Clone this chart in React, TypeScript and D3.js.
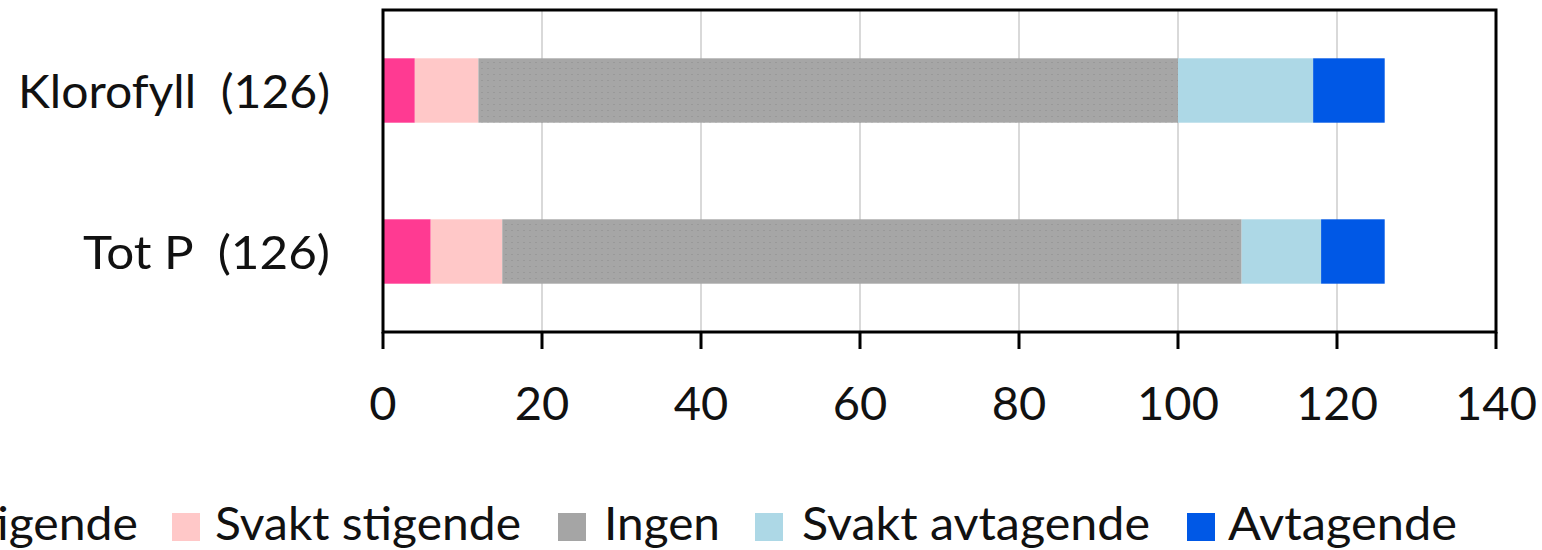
import React from "react";
import * as d3 from "d3";

const categories = ["Klorofyll  (126)", "Tot P  (126)"];
const seriesNames = ["Stigende", "Svakt stigende", "Ingen", "Svakt avtagende", "Avtagende"];
const stigende = [4, 6];
const svaktStigende = [8, 9];
const ingen = [88, 93];
const svaktAvtagende = [17, 10];
const avtagende = [9, 8];
const xTicks = [0, 20, 40, 60, 80, 100, 120, 140];

const colors = ["#FF3A92", "#FFC8C8", "url(#dots)", "#ADD8E6", "#0058E6"];
const legendSwatch = ["#FF3A92", "#FFC8C8", "#A5A5A5", "#ADD8E6", "#0058E6"];

const W = 1542;
const H = 550;
const M = { left: 383, right: 1496, top: 10, bottom: 332 };
const FONT = "Lato, 'Open Sans', sans-serif";
// layout of legend (square x, text x, text width)
const legendLayout = [
  { sx: -89, tx: -46, tw: 184 },
  { sx: 172, tx: 215, tw: 306 },
  { sx: 558, tx: 604, tw: 116 },
  { sx: 755, tx: 802, tw: 348 },
  { sx: 1187, tx: 1228, tw: 229 },
];
const catLabelWidths = [312, 247];

export default function App() {
  const x = d3.scaleLinear().domain([0, 140]).range([M.left, M.right]);
  const y = d3.scaleBand<string>().domain(categories).range([M.top, M.bottom]).paddingInner(0.6).paddingOuter(0.3);
  const rows = categories.map((c, i) => ({
    cat: c,
    Stigende: stigende[i],
    "Svakt stigende": svaktStigende[i],
    Ingen: ingen[i],
    "Svakt avtagende": svaktAvtagende[i],
    Avtagende: avtagende[i],
  }));
  const stack = d3.stack<any>().keys(seriesNames)(rows);

  return (
    <svg width={W} height={H} style={{ position: "absolute", left: 0, top: 0, background: "#fff" }}>
      <defs>
        <pattern id="dots" width="6" height="6" patternUnits="userSpaceOnUse">
          <rect width="6" height="6" fill="#A6A6A6" />
          <rect x="1" y="2" width="2" height="1" fill="#999999" />
        </pattern>
      </defs>
      <rect width={W} height={H} fill="#fff" />
      {xTicks.slice(1, -1).map((t) => (
        <line key={t} x1={x(t)} x2={x(t)} y1={M.top} y2={M.bottom} stroke="#D9D9D9" strokeWidth={2} />
      ))}
      {stack.map((s, si) =>
        s.map((d, di) => (
          <rect
            key={si + "-" + di}
            x={x(d[0])}
            width={x(d[1]) - x(d[0])}
            y={y(categories[di])}
            height={y.bandwidth()}
            fill={colors[si]}
          />
        ))
      )}
      <rect x={M.left} y={M.top} width={M.right - M.left} height={M.bottom - M.top} fill="none" stroke="#000" strokeWidth={3} />
      {xTicks.map((t) => (
        <g key={t}>
          <line x1={x(t)} x2={x(t)} y1={M.bottom} y2={M.bottom + 17} stroke="#000" strokeWidth={3} />
          <text x={x(t)} y={420} textAnchor="middle" fontFamily={FONT} fontSize={47} fill="#111">
            {t}
          </text>
        </g>
      ))}
      {categories.map((c, i) => (
        <text
          key={c}
          x={330}
          y={(y(c) as number) + y.bandwidth() / 2 + 17}
          textAnchor="end"
          fontFamily={FONT}
          fontSize={47}
          fill="#111"
          style={{ whiteSpace: "pre" }}
          textLength={catLabelWidths[i]}
          lengthAdjust="spacingAndGlyphs"
        >
          {c}
        </text>
      ))}
      {seriesNames.map((n, i) => (
        <g key={n}>
          <rect x={legendLayout[i].sx} y={513} width={28} height={28} fill={legendSwatch[i]} />
          <text
            x={legendLayout[i].tx}
            y={540}
            fontFamily={FONT}
            fontSize={47}
            fill="#111"
            textLength={legendLayout[i].tw}
            lengthAdjust="spacingAndGlyphs"
          >
            {n}
          </text>
        </g>
      ))}
    </svg>
  );
}
